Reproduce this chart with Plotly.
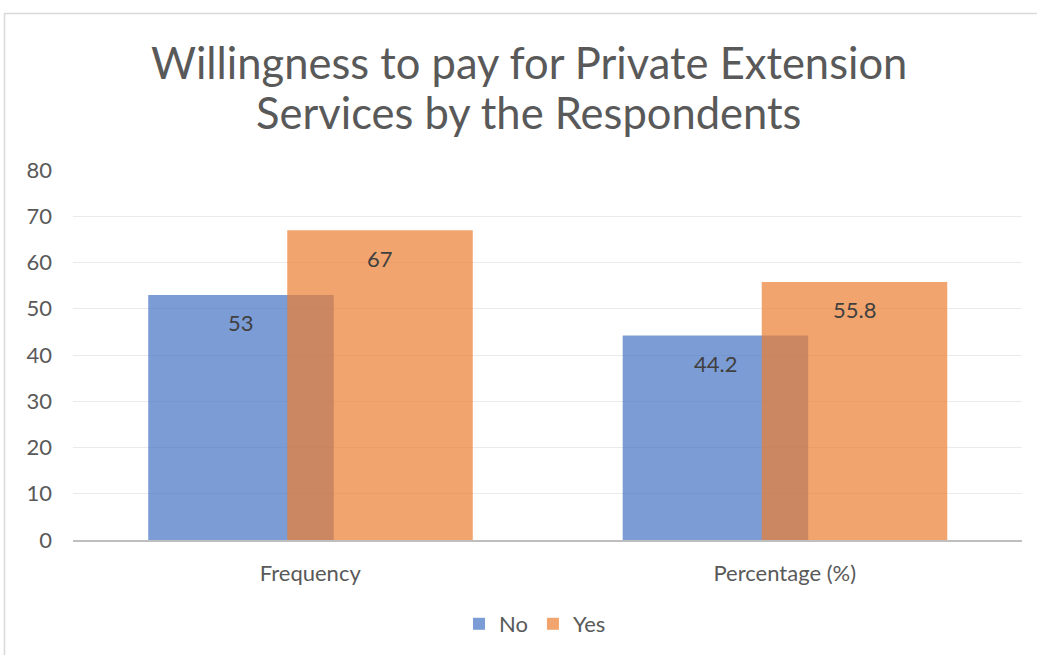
import plotly.graph_objects as go

categories = ["Frequency", "Percentage (%)"]
no_values = [53, 44.2]
yes_values = [67, 55.8]
y_ticks = [0, 10, 20, 30, 40, 50, 60, 70, 80]
title_lines = ["Willingness to pay for Private Extension", "Services by the Respondents"]

FONT = "Lato"
W, H = 1037, 655
L, R, T, B = 73, 15, 170, 115
pw = W - L - R
ph = H - T - B

BAR_W = 0.391
OFFSETS = {"No": -0.3415, "Yes": -0.0485}
COLORS = {"No": "rgba(68,114,196,0.7)", "Yes": "rgba(237,125,49,0.7)"}

fig = go.Figure()
annotations = []
for name, vals in (("No", no_values), ("Yes", yes_values)):
    fig.add_trace(go.Bar(
        name=name, x=categories, y=vals,
        marker=dict(color=COLORS[name], line=dict(width=0)),
        width=BAR_W, offset=OFFSETS[name],
    ))
    for i, v in enumerate(vals):
        annotations.append(dict(
            x=i + OFFSETS[name] + BAR_W / 2, y=v, xref="x", yref="y",
            text=str(v), showarrow=False, yanchor="middle", xanchor="center",
            yshift=-28, font=dict(family=FONT, size=22, color="#404040"),
        ))

title_y = [62, 112]
for line, yy in zip(title_lines, title_y):
    annotations.append(dict(
        xref="paper", yref="paper",
        x=(528.5 - L) / pw, y=1 + (T - yy) / ph,
        xanchor="center", yanchor="middle", showarrow=False,
        text=line, font=dict(family=FONT, size=43.5, color="#595959"),
    ))

fig.update_layout(
    width=W, height=H,
    margin=dict(l=L, r=R, t=T, b=B, pad=0, autoexpand=False),
    paper_bgcolor="white", plot_bgcolor="white",
    barmode="overlay",
    font=dict(family=FONT, color="#595959"),
    legend=dict(
        orientation="h", xanchor="center", yanchor="middle",
        x=(535 - L) / pw, y=-(624 - (T + ph)) / ph,
        font=dict(family=FONT, size=22, color="#595959"),
        traceorder="normal", bgcolor="rgba(0,0,0,0)",
    ),
    xaxis=dict(
        type="category", range=[-0.5, 1.5], automargin=False,
        showline=True, linecolor="#BFBFBF", linewidth=2,
        showgrid=False, ticks="",
        tickfont=dict(family=FONT, size=22, color="#595959"),
        ticklabelstandoff=13,
    ),
    yaxis=dict(
        range=[0, 80], tickvals=y_ticks, automargin=False,
        showgrid=True, gridcolor="#EBEBEB", gridwidth=1,
        zeroline=False, showline=False, ticks="",
        tickfont=dict(family=FONT, size=22, color="#595959"),
        ticklabelstandoff=20,
    ),
    annotations=annotations,
    shapes=[dict(
        type="rect", xref="paper", yref="paper",
        x0=(4.5 - L) / pw, x1=(W + 10 - L) / pw,
        y0=-(H + 10 - T - ph) / ph, y1=1 + (T - 13.5) / ph,
        line=dict(color="#D9D9D9", width=1.5), layer="below",
    )],
)

fig.write_html("out.html")
